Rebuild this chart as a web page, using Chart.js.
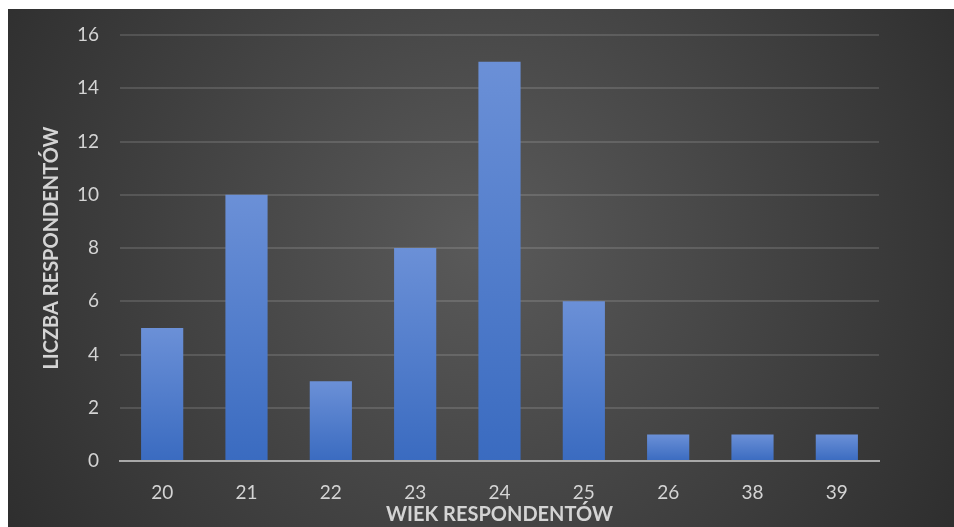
<!DOCTYPE html>
<html><head><meta charset="utf-8">
<script src="https://cdn.jsdelivr.net/npm/chart.js@4/dist/chart.umd.min.js"></script>
<style>
html,body{margin:0;padding:0;background:#fff;}
#wrap{position:absolute;left:8px;top:9px;width:946px;height:518px;}
</style></head>
<body>
<div id="wrap"><canvas id="c" width="946" height="518"></canvas></div>
<script>
const categories = ['20','21','22','23','24','25','26','38','39'];
const respondents = [5,10,3,8,15,6,1,1,1];
const yTicks = [0,2,4,6,8,10,12,14,16];
const xTitle = 'WIEK RESPONDENTÓW';
const yTitle = 'LICZBA RESPONDENTÓW';

const bgPlugin = {
  id:'bg',
  beforeDraw(chart){
    const {ctx,width,height} = chart;
    ctx.save();
    const g = ctx.createRadialGradient(width*0.5,height*0.45,0,width*0.5,height*0.45,width*0.6);
    g.addColorStop(0,'#5a5a5a');
    g.addColorStop(1,'#2d2d2d');
    ctx.fillStyle = g;
    ctx.fillRect(0,0,width,height);
    ctx.restore();
  }
};

function barColor(context){
  const chart = context.chart;
  const area = chart.chartArea;
  if(!area || !chart.scales.y) return '#4a78c8';
  const v = context.raw;
  const top = chart.scales.y.getPixelForValue(v);
  const bottom = chart.scales.y.getPixelForValue(0);
  if(!isFinite(top) || !isFinite(bottom) || top===bottom) return '#4a78c8';
  const g = chart.ctx.createLinearGradient(0,top,0,bottom);
  g.addColorStop(0,'#6b90d7');
  g.addColorStop(1,'#3a6bc0');
  return g;
}

Chart.defaults.font.family = 'Lato, "Open Sans", sans-serif';
new Chart(document.getElementById('c'),{
  type:'bar',
  data:{labels:categories,datasets:[{data:respondents,backgroundColor:barColor,borderWidth:0,barPercentage:0.5,categoryPercentage:1}]},
  options:{
    responsive:false,animation:false,
    layout:{padding:{left:0,right:75,top:26,bottom:0}},
    plugins:{legend:{display:false},tooltip:{enabled:false}},
    scales:{
      x:{
        grid:{display:false,drawTicks:false},
        border:{display:true,color:'#a8a8a8',width:2},
        ticks:{color:'#d4d4d4',font:{size:19},padding:20},
        title:{display:true,text:xTitle,color:'#d4d4d4',font:{size:20,weight:'bold'},padding:{top:0,bottom:0}},
        afterFit(s){s.height=66;}
      },
      y:{
        min:0,max:16,
        afterBuildTicks(s){s.ticks=yTicks.map(v=>({value:v}));},
        grid:{color:c=>c.tick && c.tick.value===0?'rgba(0,0,0,0)':'rgba(255,255,255,0.13)',lineWidth:2,drawTicks:false},
        border:{display:false},
        ticks:{color:'#d4d4d4',font:{size:19},padding:21},
        title:{display:true,text:yTitle,color:'#d4d4d4',font:{size:20,weight:'bold'},padding:{top:32,bottom:0}},
        afterFit(s){s.width=112;s.paddingTop=0;s.paddingBottom=0;}
      }
    }
  },
  plugins:[bgPlugin]
});
</script>
</body></html>
